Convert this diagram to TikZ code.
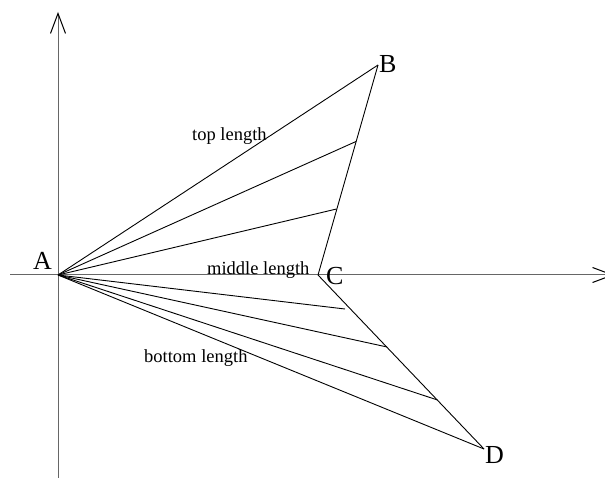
\documentclass[tikz,border=0pt]{standalone}
\usepackage{fontspec}
\setmainfont{Liberation Serif}
\usetikzlibrary{arrows.meta}
\begin{document}
\begin{tikzpicture}[x=1pt,y=-1pt,
  axisline/.style={draw=black!60,line width=1pt,-{Straight Barb[length=20pt,width=15pt,line width=1pt,black]}},
  seg/.style={draw=black,line width=0.9pt},
  vlabel/.style={inner sep=0pt,anchor=base west,font=\fontsize{26}{26}\selectfont},
  lenlabel/.style={inner sep=0pt,anchor=base west,font=\fontsize{18.5}{18.5}\selectfont}]
\useasboundingbox (0,0) rectangle (605,478);
\clip (0,0) rectangle (605,478);
% points
\coordinate (A) at (58,275);
\coordinate (B) at (378,65);
\coordinate (C) at (318,275);
\coordinate (D) at (484,449);
\coordinate (P1) at (356,141.5);
\coordinate (P2) at (336.5,209);
\coordinate (P3) at (345,309);
\coordinate (P4) at (387,347);
\coordinate (P5) at (437.5,400);
% axes
\coordinate (xs) at (10,275);
\coordinate (xe) at (614,275);
\coordinate (ys) at (58,480);
\coordinate (ye) at (58,12);
\draw[axisline] (xs) -- (xe);
\draw[axisline] (ys) -- (ye);
% segments
\draw[seg] (A) -- (B);
\draw[seg] (A) -- (P1);
\draw[seg] (A) -- (P2);
\draw[seg] (A) -- (P3);
\draw[seg] (A) -- (P4);
\draw[seg] (A) -- (P5);
\draw[seg] (A) -- (D);
\draw[seg] (B) -- (C);
\draw[seg] (C) -- (D);
% labels
\node[vlabel] (lA) at (33,270) {A};
\node[vlabel] (lB) at (379,73) {B};
\node[vlabel] (lC) at (326,285) {C};
\node[vlabel] (lD) at (485,463) {D};
\node[lenlabel] (ltop) at (192,141) {top length};
\node[lenlabel] (lmid) at (207,275) {middle length};
\node[lenlabel] (lbot) at (144,362) {bottom length};
\end{tikzpicture}
\end{document}
